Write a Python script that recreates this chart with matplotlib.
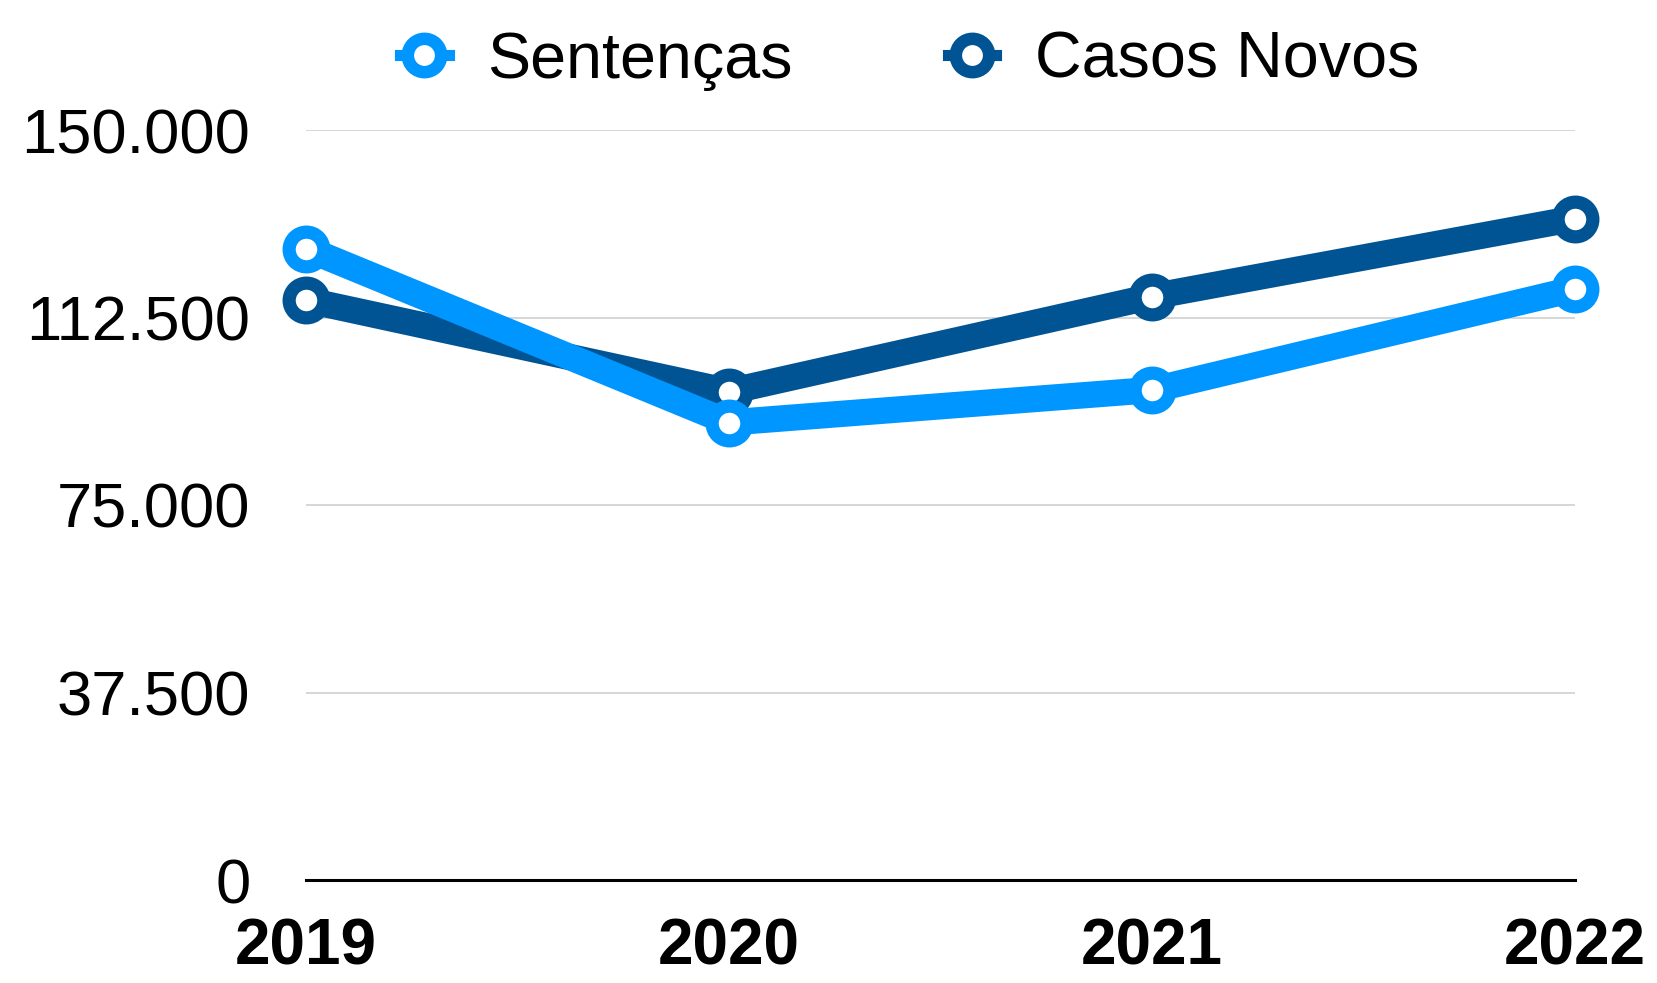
import matplotlib
matplotlib.use("Agg")
import matplotlib.pyplot as plt
from matplotlib.lines import Line2D
from matplotlib.ticker import FixedLocator, FuncFormatter

plt.rcParams['font.family'] = ['Liberation Sans', 'DejaVu Sans']

# dados
anos = ["2019", "2020", "2021", "2022"]
sentencas = [126300, 91500, 98000, 118200]
casos_novos = [116000, 97700, 116700, 132300]
yticks = [0, 37500, 75000, 112500, 150000]

cor_sent = '#0096FF'
cor_casos = '#005493'

fig = plt.figure(figsize=(16.57, 9.83), dpi=100)
ax = fig.add_axes([306 / 1657, 1 - 880 / 983, (1575 - 306) / 1657, (880 - 130) / 983])

x = list(range(len(anos)))
estilo = dict(lw=19, marker='o', ms=25, mew=9.5, mfc='white',
              solid_capstyle='round', solid_joinstyle='round', clip_on=False)
ax.plot(x, casos_novos, color=cor_casos, zorder=3, **estilo)
ax.plot(x, sentencas, color=cor_sent, zorder=4, **estilo)

ax.set_xlim(0, 3)
ax.set_ylim(0, 150000)
ax.yaxis.set_major_locator(FixedLocator(yticks))
ax.yaxis.set_major_formatter(FuncFormatter(lambda v, p: f"{int(v):,}".replace(",", ".")))
ax.set_xticks(x)
ax.set_xticklabels(anos, fontsize=46, fontweight='bold')
ax.tick_params(axis='y', labelsize=45.5, length=0, pad=40)
ax.tick_params(axis='x', length=0, pad=27)

for v in yticks[1:]:
    ax.axhline(v, color='#d0d0d0', lw=1.2, zorder=1)
ax.axhline(0, color='black', lw=2.2, zorder=2, clip_on=False)

for s in ax.spines.values():
    s.set_visible(False)

# legenda
handles = [Line2D([], [], color=c, lw=8, marker='o', ms=24, mew=9, mfc='white')
           for c in (cor_sent, cor_casos)]
fig.legend(handles, ['Sentenças', 'Casos Novos'], loc='center', bbox_to_anchor=(0.549, 0.938),
           ncol=2, frameon=False, fontsize=46.5, handlelength=0.75, handletextpad=0.6,
           columnspacing=2.4)

fig.savefig("out.png", dpi=100)
